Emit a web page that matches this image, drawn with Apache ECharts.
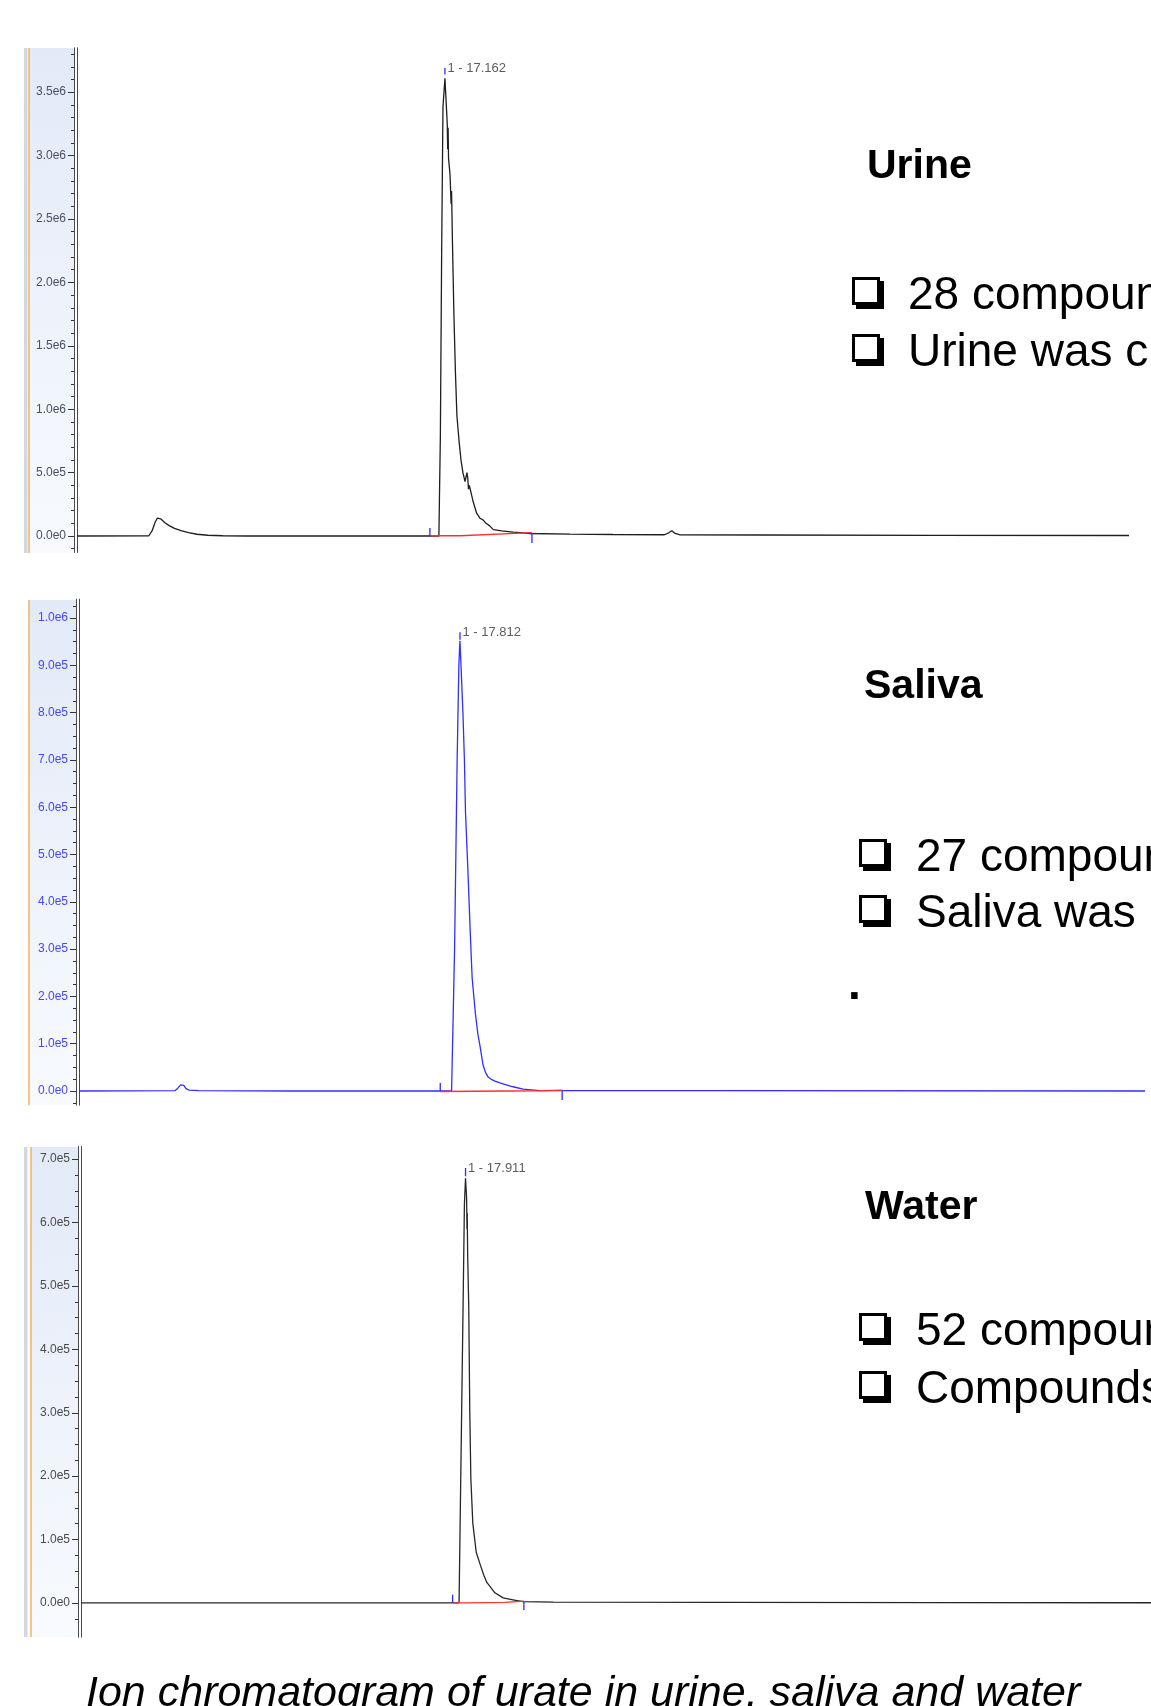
<!DOCTYPE html>
<html>
<head>
<meta charset="utf-8">
<title>Ion chromatogram of urate</title>
<script src="https://cdn.jsdelivr.net/npm/echarts/dist/echarts.min.js"></script>
<style>
  html, body { margin: 0; padding: 0; background: #fff; }
  #main { width: 1151px; height: 1706px; }
</style>
</head>
<body>
<div id="main"></div>
<script>
// retention time (min), intensity (counts)
const urineTrace = [
  [0, 0], [3.35, 0.002e6], [3.5, 0.04e6], [3.65, 0.11e6], [3.75, 0.142e6], [3.82, 0.13e6], [3.9, 0.136e6],
  [3.97, 0.122e6], [4.1, 0.105e6], [4.3, 0.082e6], [4.55, 0.06e6], [4.85, 0.042e6], [5.2, 0.026e6],
  [5.6, 0.014e6], [6.1, 0.006e6], [6.8, 0.002e6], [8.0, 0], [12, 0], [16.88, 0],
  [16.95, 0.8e6], [17.01, 2.26e6], [17.07, 3.38e6], [17.162, 3.61e6], [17.22, 3.42e6], [17.27, 3.25e6],
  [17.29, 3.05e6], [17.31, 3.22e6], [17.33, 2.98e6], [17.40, 2.85e6], [17.45, 2.62e6], [17.47, 2.72e6],
  [17.52, 2.26e6], [17.58, 1.75e6], [17.65, 1.30e6], [17.72, 0.95e6], [17.82, 0.75e6], [17.91, 0.60e6],
  [18.00, 0.50e6], [18.10, 0.43e6], [18.15, 0.44e6], [18.19, 0.50e6], [18.23, 0.45e6], [18.26, 0.37e6],
  [18.30, 0.40e6], [18.41, 0.32e6], [18.48, 0.27e6], [18.64, 0.18e6], [18.80, 0.14e6], [18.95, 0.125e6],
  [19.03, 0.12e6], [19.08, 0.10e6], [19.14, 0.115e6], [19.25, 0.08e6], [19.42, 0.05e6], [19.8, 0.04e6],
  [20.35, 0.03e6], [21.13, 0.02e6], [23, 0.015e6], [25, 0.012e6], [27.4, 0.01e6], [27.6, 0.025e6],
  [27.74, 0.042e6], [27.9, 0.02e6], [28.1, 0.01e6], [32, 0.008e6], [40, 0.005e6], [49.07, 0.004e6]
];
const salivaTrace = [
  [0, 0], [4.5, 0.001e6], [4.62, 0.006e6], [4.75, 0.013e6], [4.82, 0.016e6], [4.9, 0.012e6],
  [5.0, 0.005e6], [5.15, 0.002e6], [5.6, 0.001e6], [10, 0], [17.42, 0], [17.56, 0.3e6], [17.68, 0.7e6],
  [17.76, 0.9e6], [17.81, 0.952e6], [17.86, 0.90e6], [17.95, 0.80e6], [18.02, 0.70e6], [18.07, 0.59e6],
  [18.18, 0.47e6], [18.28, 0.35e6], [18.38, 0.24e6], [18.53, 0.165e6], [18.65, 0.12e6], [18.75, 0.095e6],
  [18.89, 0.055e6], [19.0, 0.04e6], [19.12, 0.03e6], [19.2, 0.027e6], [19.3, 0.024e6], [19.45, 0.021e6],
  [19.68, 0.017e6], [19.9, 0.014e6], [20.29, 0.009e6], [20.76, 0.004e6], [21.55, 0.001e6],
  [30, 0.001e6], [49.84, 0]
];
const waterTrace = [
  [0, 0], [17.61, 0], [17.75, 3.5e5], [17.86, 6.3e5], [17.911, 6.70e5], [17.96, 6.4e5], [17.98, 5.9e5],
  [17.99, 6.15e5], [18.01, 5.5e5], [18.06, 4.7e5], [18.11, 3.0e5], [18.16, 1.95e5], [18.25, 1.26e5],
  [18.41, 0.80e5], [18.58, 0.62e5], [18.75, 0.45e5], [18.91, 0.32e5], [18.97, 0.34e5], [19.03, 0.27e5],
  [19.28, 0.16e5], [19.66, 0.08e5], [20.12, 0.05e5], [20.59, 0.02e5], [22, 0.012e5], [30, 0.008e5],
  [40, 0.005e5], [49.84, 0.003e5]
];

// integration baselines (red) and start / end markers (blue)
const urineIntegration = [[16.46, 0.002e6], [17.86, 0.002e6], [17.86, 0.016e6], [21.22, 0.026e6]];
const salivaIntegration = [[16.89, -0.001e6], [21.55, 0.0005e6], [22.59, 0.002e6]];
const waterIntegration = [[17.31, 0], [17.9, 0], [17.9, 0.01e5], [19.75, 0.01e5], [19.75, 0.03e5], [20.63, 0.03e5]];
const urineMarks = [[16.46, 0, 0.063e6], [21.22, 0.024e6, -0.055e6]];
const salivaMarks = [[16.89, 0, 0.017e6], [22.59, 0, -0.019e6]];
const waterMarks = [[17.31, 0, 0.13e5], [20.63, 0.016e5, -0.11e5]];

// peak number, apex time, tick from/to
const urinePeak = [1, 17.162, 3.64e6, 3.69e6];
const salivaPeak = [1, 17.812, 0.954e6, 0.970e6];
const waterPeak = [1, 17.911, 6.73e5, 6.86e5];

// labelled ticks
const urineTicks = [0, 0.5e6, 1.0e6, 1.5e6, 2.0e6, 2.5e6, 3.0e6, 3.5e6];
const salivaTicks = [0, 1e5, 2e5, 3e5, 4e5, 5e5, 6e5, 7e5, 8e5, 9e5, 1e6];
const waterTicks = [0, 1e5, 2e5, 3e5, 4e5, 5e5, 6e5, 7e5];

const titles = ['Urine', 'Saliva', 'Water'];
const bullets = [
  ['28 compoun', 'Urine was c'],
  ['27 compoun', 'Saliva was'],
  ['52 compoun', 'Compounds']
];
const caption = 'Ion chromatogram of urate in urine, saliva and water';

const FONT = '"Liberation Sans", Arial, sans-serif';

function steps(from, to, step) {
  let out = [];
  let n = Math.round((to - from) / step);
  for (let i = 0; i <= n; i++) out.push(from + i * step);
  return out;
}

const panels = [
  { trace: urineTrace, color: '#1e1e1e', tickColor: '#4d4d68', left: 77, width: 1052, top: 47.8, height: 504.7,
    yMin: -0.13e6, yMax: 3.85e6, xMax: 49.07, major: urineTicks, minor: steps(-0.1e6, 3.8e6, 0.1e6),
    integration: urineIntegration, marks: urineMarks, peak: urinePeak,
    band: [29, 48, 553], strip: true },
  { trace: salivaTrace, color: '#2f2fff', tickColor: '#4646ff', left: 79, width: 1066, top: 599.1, height: 506.1,
    yMin: -0.03e6, yMax: 1.04e6, xMax: 49.84, major: salivaTicks, minor: steps(-0.025e6, 1.025e6, 0.025e6),
    integration: salivaIntegration, marks: salivaMarks, peak: salivaPeak,
    band: [29, 600, 1105], strip: false },
  { trace: waterTrace, color: '#262626', tickColor: '#4a4a4a', left: 81, width: 1070, top: 1146.5, height: 490.7,
    yMin: -0.54e5, yMax: 7.2e5, xMax: 49.84, major: waterTicks, minor: steps(-0.25e5, 7.0e5, 0.25e5),
    integration: waterIntegration, marks: waterMarks, peak: waterPeak,
    band: [31, 1147, 1637], strip: true }
];

const fmt = v => Number(v).toExponential(1).replace('e+', 'e');

let grids = [], xAxes = [], yAxes = [], series = [], graphics = [];

panels.forEach((p, i) => {
    grids.push({ left: p.left, width: p.width, top: p.top, height: p.height, containLabel: false });
    xAxes.push({ gridIndex: i, type: 'value', min: 0, max: p.xMax, show: false });
    // outer line with labels and long ticks
    yAxes.push({
        gridIndex: i, type: 'value', min: p.yMin, max: p.yMax, position: 'left', offset: 3,
        axisLine: { show: true, onZero: false, lineStyle: { color: '#4a4a4a', width: 1 } },
        axisTick: { show: true, customValues: p.major, length: 6, lineStyle: { color: '#333' } },
        axisLabel: { show: true, customValues: p.major, formatter: fmt, fontSize: 12, fontFamily: FONT,
            color: p.tickColor, margin: 8 },
        splitLine: { show: false }
    });
    // short ticks on the outer line
    yAxes.push({
        gridIndex: i, type: 'value', min: p.yMin, max: p.yMax, position: 'left', offset: 3,
        axisLine: { show: false, onZero: false },
        axisTick: { show: true, customValues: p.minor, length: 3, lineStyle: { color: '#333' } },
        axisLabel: { show: false },
        splitLine: { show: false }
    });
    // inner line
    yAxes.push({
        gridIndex: i, type: 'value', min: p.yMin, max: p.yMax, position: 'left', offset: 0,
        axisLine: { show: true, onZero: false, lineStyle: { color: '#4a4a4a', width: 1 } },
        axisTick: { show: false },
        axisLabel: { show: false },
        splitLine: { show: false }
    });

    let base = { xAxisIndex: i, yAxisIndex: i * 3, showSymbol: false, symbol: 'none', silent: true, animation: false };

    series.push(Object.assign({}, base, {
        type: 'line', data: p.trace, z: 3,
        lineStyle: { color: p.color, width: 1.3 }, itemStyle: { color: p.color }
    }));
    series.push(Object.assign({}, base, {
        type: 'line', data: p.integration, z: 4,
        lineStyle: { color: '#ff3030', width: 1.3 }, itemStyle: { color: '#ff3030' }
    }));
    p.marks.forEach(m => {
        series.push(Object.assign({}, base, {
            type: 'line', data: [[m[0], m[1]], [m[0], m[2]]], z: 5,
            lineStyle: { color: '#2b2bff', width: 1.3 }, itemStyle: { color: '#2b2bff' }
        }));
    });
    let pk = p.peak;
    series.push(Object.assign({}, base, {
        type: 'line', data: [[pk[1], pk[2]], [pk[1], pk[3]]], z: 5,
        lineStyle: { color: '#2b2bff', width: 1.3 }, itemStyle: { color: '#2b2bff' }
    }));
    series.push({
        type: 'scatter', xAxisIndex: i, yAxisIndex: i * 3, silent: true, animation: false,
        data: [[pk[1], pk[3]]], symbolSize: 1, itemStyle: { color: 'rgba(0,0,0,0)' },
        label: {
            show: true, position: 'right', distance: 2,
            formatter: () => pk[0] + ' - ' + pk[1].toFixed(3),
            fontSize: 13, fontFamily: FONT, color: '#333'
        }
    });

    // left margin decoration of the instrument plot
    let b = p.band;
    if (p.strip) {
        graphics.push({ type: 'rect', shape: { x: 24, y: b[1], width: 3.5, height: b[2] - b[1] },
            style: { fill: '#d3d7df' }, silent: true });
    }
    graphics.push({ type: 'rect', shape: { x: b[0], y: b[1], width: p.left - 3 - b[0], height: b[2] - b[1] },
        style: { fill: new echarts.graphic.LinearGradient(0, 0, 1, 1, [
            { offset: 0, color: '#e2eaf8' }, { offset: 1, color: '#f8fafe' }]) }, silent: true, z: -1 });
    graphics.push({ type: 'rect', shape: { x: b[0] - 0.75, y: b[1], width: 1.5, height: b[2] - b[1] },
        style: { fill: '#f0b35a' }, silent: true });
});

// right-hand text
const textBlocks = [
    { tx: 867, ty: 181, bx: 852, lines: [312, 369], lx: 908 },
    { tx: 864, ty: 701, bx: 859, lines: [874, 930], lx: 916 },
    { tx: 865, ty: 1222, bx: 859, lines: [1348, 1406], lx: 916 }
];
textBlocks.forEach((t, i) => {
    graphics.push({ type: 'text', x: t.tx, y: t.ty - 0.347 * 41, silent: true,
        style: { text: titles[i], font: 'bold 41px ' + FONT, fill: '#000', align: 'left', verticalAlign: 'middle' } });
    t.lines.forEach((base, j) => {
        let top = base - 35;
        graphics.push({ type: 'rect', shape: { x: t.bx + 4, y: top + 4, width: 28, height: 28 },
            style: { fill: '#000' }, silent: true });
        graphics.push({ type: 'rect', shape: { x: t.bx + 1.5, y: top + 1.5, width: 25, height: 25 },
            style: { fill: '#fff', stroke: '#000', lineWidth: 3 }, silent: true });
        graphics.push({ type: 'text', x: t.lx, y: base - 0.347 * 46, silent: true,
            style: { text: bullets[i][j], font: '46px ' + FONT, fill: '#000', align: 'left', verticalAlign: 'middle' } });
    });
});
graphics.push({ type: 'text', x: 848, y: 1002 - 0.347 * 46, silent: true,
    style: { text: '.', font: 'bold 46px ' + FONT, fill: '#000', align: 'left', verticalAlign: 'middle' } });
graphics.push({ type: 'text', x: 86, y: 1709 - 0.347 * 43, silent: true,
    style: { text: caption, font: 'italic 43px ' + FONT, fill: '#000', align: 'left', verticalAlign: 'middle' } });

const chart = echarts.init(document.getElementById('main'));
chart.setOption({
    animation: false,
    backgroundColor: '#fff',
    grid: grids,
    xAxis: xAxes,
    yAxis: yAxes,
    series: series,
    graphic: graphics
});
</script>
</body>
</html>
